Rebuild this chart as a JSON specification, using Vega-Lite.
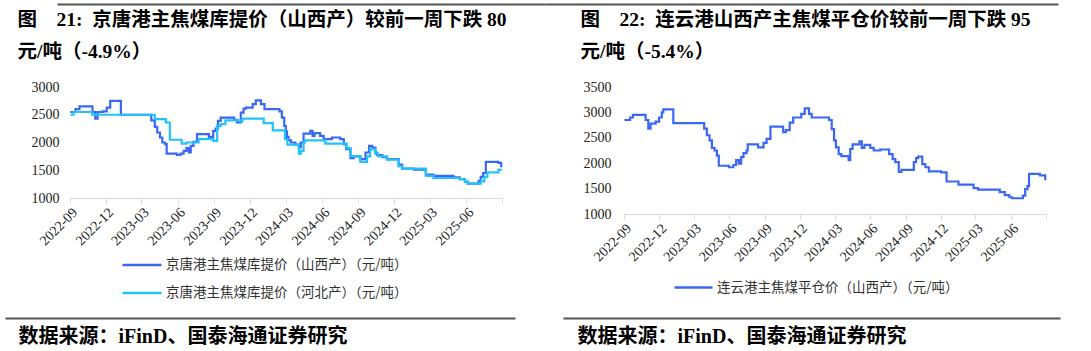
{
  "$schema": "https://vega.github.io/schema/vega-lite/v6.json",
  "background": "white",
  "padding": {"left": 5, "top": 4, "right": 0, "bottom": 0},
  "config": {"view": {"stroke": null}, "axis": {"grid": false}},
  "datasets": {
    "sx": [
      {"d":"2022-09-02","v":2550},{"d":"2022-09-15","v":2600},{"d":"2022-09-25","v":2650},{"d":"2022-10-28","v":2550},
      {"d":"2022-11-04","v":2430},{"d":"2022-11-10","v":2550},{"d":"2022-11-23","v":2560},{"d":"2022-12-03","v":2630},
      {"d":"2022-12-12","v":2750},{"d":"2023-01-08","v":2500},{"d":"2023-03-26","v":2400},{"d":"2023-04-04","v":2280},
      {"d":"2023-04-10","v":2180},{"d":"2023-04-17","v":2090},{"d":"2023-04-23","v":2000},{"d":"2023-04-30","v":1970},
      {"d":"2023-05-04","v":1800},{"d":"2023-05-30","v":1775},{"d":"2023-06-08","v":1800},{"d":"2023-06-16","v":1850},
      {"d":"2023-06-23","v":1900},{"d":"2023-06-29","v":1820},{"d":"2023-07-04","v":1940},{"d":"2023-07-11","v":2010},
      {"d":"2023-07-20","v":2150},{"d":"2023-08-19","v":2100},{"d":"2023-08-30","v":2210},{"d":"2023-09-05","v":2250},
      {"d":"2023-09-11","v":2390},{"d":"2023-09-18","v":2450},{"d":"2023-10-22","v":2410},{"d":"2023-10-29","v":2360},
      {"d":"2023-11-08","v":2540},{"d":"2023-11-15","v":2610},{"d":"2023-11-21","v":2630},{"d":"2023-12-08","v":2690},
      {"d":"2023-12-16","v":2760},{"d":"2023-12-29","v":2690},{"d":"2024-01-07","v":2600},{"d":"2024-02-14","v":2560},
      {"d":"2024-02-20","v":2450},{"d":"2024-02-26","v":2300},{"d":"2024-03-01","v":2200},{"d":"2024-03-04","v":2100},
      {"d":"2024-03-08","v":2040},{"d":"2024-03-14","v":2000},{"d":"2024-03-25","v":1960},{"d":"2024-04-03","v":1910},
      {"d":"2024-04-08","v":2000},{"d":"2024-04-15","v":2160},{"d":"2024-05-02","v":2210},{"d":"2024-05-08","v":2120},
      {"d":"2024-05-13","v":2170},{"d":"2024-05-27","v":2120},{"d":"2024-06-05","v":2060},{"d":"2024-06-26","v":2090},
      {"d":"2024-07-17","v":2060},{"d":"2024-07-26","v":1970},{"d":"2024-08-01","v":1880},{"d":"2024-08-12","v":1720},
      {"d":"2024-08-20","v":1750},{"d":"2024-09-06","v":1700},{"d":"2024-09-19","v":1820},{"d":"2024-09-28","v":1940},
      {"d":"2024-10-06","v":1910},{"d":"2024-10-14","v":1820},{"d":"2024-10-18","v":1775},{"d":"2024-11-01","v":1735},
      {"d":"2024-11-13","v":1700},{"d":"2024-12-12","v":1600},{"d":"2024-12-21","v":1530},{"d":"2025-01-20","v":1510},
      {"d":"2025-02-19","v":1420},{"d":"2025-03-10","v":1400},{"d":"2025-04-30","v":1370},{"d":"2025-05-16","v":1340},
      {"d":"2025-05-29","v":1295},{"d":"2025-06-05","v":1260},{"d":"2025-07-03","v":1310},{"d":"2025-07-08","v":1380},
      {"d":"2025-07-14","v":1450},{"d":"2025-07-21","v":1650},{"d":"2025-08-22","v":1633},{"d":"2025-08-29","v":1553}
    ],
    "hb": [
      {"d":"2022-09-02","v":2500},{"d":"2022-09-10","v":2550},{"d":"2022-10-27","v":2500},{"d":"2023-04-04","v":2420},
      {"d":"2023-05-02","v":2360},{"d":"2023-05-12","v":2050},{"d":"2023-06-11","v":1980},{"d":"2023-06-23","v":2000},
      {"d":"2023-07-24","v":2060},{"d":"2023-08-30","v":2030},{"d":"2023-09-09","v":2300},{"d":"2023-09-18","v":2330},
      {"d":"2023-09-30","v":2400},{"d":"2023-11-08","v":2380},{"d":"2023-11-12","v":2430},{"d":"2024-01-05","v":2350},
      {"d":"2024-01-28","v":2220},{"d":"2024-02-28","v":2060},{"d":"2024-03-05","v":1960},{"d":"2024-04-03","v":1800},
      {"d":"2024-04-08","v":1850},{"d":"2024-04-15","v":2000},{"d":"2024-04-18","v":2040},{"d":"2024-06-09","v":1980},
      {"d":"2024-08-02","v":1900},{"d":"2024-08-12","v":1750},{"d":"2024-09-06","v":1650},{"d":"2024-09-23","v":1750},
      {"d":"2024-10-01","v":1880},{"d":"2024-10-14","v":1800},{"d":"2024-10-21","v":1750},{"d":"2024-11-12","v":1690},
      {"d":"2024-12-12","v":1570},{"d":"2024-12-21","v":1530},{"d":"2025-02-19","v":1400},{"d":"2025-03-10","v":1360},
      {"d":"2025-05-16","v":1340},{"d":"2025-05-29","v":1290},{"d":"2025-06-05","v":1260},{"d":"2025-07-08","v":1300},
      {"d":"2025-07-17","v":1380},{"d":"2025-07-25","v":1460},{"d":"2025-08-22","v":1510},{"d":"2025-08-29","v":1520}
    ],
    "lyg": [
      {"d":"2022-09-02","v":2850},{"d":"2022-09-17","v":2900},{"d":"2022-09-24","v":2950},{"d":"2022-10-27","v":2850},
      {"d":"2022-11-03","v":2680},{"d":"2022-11-09","v":2780},{"d":"2022-11-22","v":2820},{"d":"2022-12-01","v":2900},
      {"d":"2022-12-08","v":3000},{"d":"2022-12-12","v":3060},{"d":"2023-01-07","v":2790},{"d":"2023-03-28","v":2680},
      {"d":"2023-04-04","v":2550},{"d":"2023-04-11","v":2450},{"d":"2023-04-17","v":2300},{"d":"2023-04-24","v":2250},
      {"d":"2023-04-30","v":2150},{"d":"2023-05-05","v":1950},{"d":"2023-05-31","v":1920},{"d":"2023-06-12","v":1965},
      {"d":"2023-06-19","v":2060},{"d":"2023-06-26","v":1990},{"d":"2023-07-02","v":2120},{"d":"2023-07-08","v":2200},
      {"d":"2023-07-16","v":2250},{"d":"2023-07-19","v":2370},{"d":"2023-08-15","v":2310},{"d":"2023-08-29","v":2400},
      {"d":"2023-09-06","v":2480},{"d":"2023-09-16","v":2720},{"d":"2023-10-19","v":2610},{"d":"2023-10-26","v":2650},
      {"d":"2023-11-05","v":2800},{"d":"2023-11-14","v":2900},{"d":"2023-12-05","v":2970},{"d":"2023-12-14","v":3080},
      {"d":"2023-12-25","v":2970},{"d":"2024-01-01","v":2900},{"d":"2024-02-15","v":2850},{"d":"2024-02-22","v":2670},
      {"d":"2024-02-28","v":2450},{"d":"2024-03-04","v":2310},{"d":"2024-03-11","v":2180},{"d":"2024-03-18","v":2140},
      {"d":"2024-04-06","v":2060},{"d":"2024-04-10","v":2280},{"d":"2024-04-16","v":2370},{"d":"2024-05-04","v":2430},
      {"d":"2024-05-10","v":2300},{"d":"2024-05-17","v":2360},{"d":"2024-06-01","v":2300},{"d":"2024-06-10","v":2250},
      {"d":"2024-06-27","v":2270},{"d":"2024-07-20","v":2180},{"d":"2024-07-29","v":2080},{"d":"2024-08-05","v":2020},
      {"d":"2024-08-14","v":1830},{"d":"2024-08-21","v":1870},{"d":"2024-09-22","v":2020},{"d":"2024-09-28","v":2100},
      {"d":"2024-10-03","v":2130},{"d":"2024-10-14","v":1980},{"d":"2024-10-22","v":1920},{"d":"2024-10-31","v":1840},
      {"d":"2024-12-02","v":1820},{"d":"2024-12-16","v":1640},{"d":"2025-01-16","v":1580},{"d":"2025-02-24","v":1510},
      {"d":"2025-03-08","v":1480},{"d":"2025-05-03","v":1430},{"d":"2025-05-16","v":1370},{"d":"2025-05-28","v":1330},
      {"d":"2025-06-04","v":1310},{"d":"2025-07-02","v":1360},{"d":"2025-07-08","v":1490},{"d":"2025-07-14","v":1550},
      {"d":"2025-07-18","v":1790},{"d":"2025-08-15","v":1759},{"d":"2025-08-29","v":1664}
    ]
  },
  "spacing": -35,
  "bounds": "full",
  "resolve": {"scale": {"color": "independent", "y": "independent", "x": "independent"}, "legend": {"color": "independent"}},
  "hconcat": [
    {
      "width": 432,
      "height": 111,
      "layer": [
        {
          "data": {"name": "sx"},
          "mark": {"type": "line", "interpolate": "step-after", "strokeWidth": 2.2},
          "encoding": {
            "x": {"field": "d", "type": "temporal",
              "scale": {"domain": [{"year": 2022, "month": 9, "date": 1}, {"year": 2025, "month": 8, "date": 31}]},
              "axis": {"title": null, "values": [
                {"year": 2022, "month": 9, "date": 1}, {"year": 2022, "month": 12, "date": 1},
                {"year": 2023, "month": 3, "date": 1}, {"year": 2023, "month": 6, "date": 1},
                {"year": 2023, "month": 9, "date": 1}, {"year": 2023, "month": 12, "date": 1},
                {"year": 2024, "month": 3, "date": 1}, {"year": 2024, "month": 6, "date": 1},
                {"year": 2024, "month": 9, "date": 1}, {"year": 2024, "month": 12, "date": 1},
                {"year": 2025, "month": 3, "date": 1}, {"year": 2025, "month": 6, "date": 1},
                {"year": 2025, "month": 8, "date": 31}],
                "labelExpr": "datum.value > 1750000000000 ? '' : timeFormat(datum.value, '%Y-%m')",
                "labelAngle": -45, "labelFont": "Liberation Serif", "labelFontSize": 14, "labelColor": "#222",
                "labelFlush": false, "labelOverlap": false, "labelPadding": 2,
                "domainColor": "#D9D9D9", "tickColor": "#D9D9D9", "tickSize": 5, "grid": false}},
            "y": {"field": "v", "type": "quantitative",
              "scale": {"domain": [1000, 3000], "nice": false, "zero": false},
              "axis": {"title": null, "values": [1000, 1500, 2000, 2500, 3000], "format": "d", "domain": false, "ticks": false,
                "labelFont": "Liberation Serif", "labelFontSize": 14, "labelColor": "#222", "labelPadding": 11, "grid": false}},
            "color": {"datum": "京唐港主焦煤库提价（山西产）（元/吨）", "type": "nominal",
              "scale": {"domain": ["京唐港主焦煤库提价（山西产）（元/吨）", "京唐港主焦煤库提价（河北产）（元/吨）"], "range": ["#3A68F5", "#22C3F8"]},
              "legend": {"orient": "none", "legendX": 51, "legendY": 157, "direction": "vertical", "title": null,
                "symbolType": "stroke", "symbolSize": 1521, "symbolStrokeWidth": 2.5, "labelLimit": 0,
                "labelFont": "Noto Sans CJK SC", "labelFontSize": 13.5, "labelColor": "#333", "labelOffset": 3, "rowPadding": -12}}
          }
        },
        {
          "data": {"name": "hb"},
          "mark": {"type": "line", "interpolate": "step-after", "strokeWidth": 2.2},
          "encoding": {
            "x": {"field": "d", "type": "temporal",
              "scale": {"domain": [{"year": 2022, "month": 9, "date": 1}, {"year": 2025, "month": 8, "date": 31}]},
              "axis": null},
            "y": {"field": "v", "type": "quantitative",
              "axis": {"title": null, "values": [1000, 1500, 2000, 2500, 3000], "format": "d", "domain": false, "ticks": false,
                "labelFont": "Liberation Serif", "labelFontSize": 14, "labelColor": "#222", "labelPadding": 11, "grid": false}},
            "color": {"datum": "京唐港主焦煤库提价（河北产）（元/吨）", "type": "nominal"}
          }
        },
        {
          "data": {"values": [{"u": 0, "w": 2000}]},
          "mark": {"type": "point", "opacity": 0, "size": 0},
          "encoding": {
            "y": {"field": "w", "type": "quantitative",
              "axis": {"title": null, "values": [1000, 1500, 2000, 2500, 3000], "format": "d", "domain": false, "ticks": false,
                "labelFont": "Liberation Serif", "labelFontSize": 14, "labelColor": "#222", "labelPadding": 11, "grid": false}},
            "x": {"field": "u", "type": "quantitative", "scale": {"domain": [0, 1], "range": [-13, 475]},
              "axis": {"orient": "top", "offset": 83, "domainColor": "#555555", "domainWidth": 2, "ticks": false, "labels": false, "grid": false,
                "title": ["图\u300021:\u2002京唐港主焦煤库提价（山西产）较前一周下跌 80", "元/吨（-4.9%）"],
                "titleFont": "Liberation Serif, Noto Sans CJK SC", "titleFontSize": 19.5, "titleFontWeight": "bold", "titleColor": "#000000",
                "titleAlign": "left", "titleAnchor": "start", "titleBaseline": "alphabetic", "titleAngle": 0,
                "titleX": -53, "titleY": 21, "titleLineHeight": 32}}
          }
        },
        {
          "data": {"values": [{"u": 0, "w": 2000}]},
          "mark": {"type": "point", "opacity": 0, "size": 0},
          "encoding": {
            "y": {"field": "w", "type": "quantitative",
              "axis": {"title": null, "values": [1000, 1500, 2000, 2500, 3000], "format": "d", "domain": false, "ticks": false,
                "labelFont": "Liberation Serif", "labelFontSize": 14, "labelColor": "#222", "labelPadding": 11, "grid": false}},
            "x": {"field": "u", "type": "quantitative", "scale": {"domain": [0, 1], "range": [-65, 445]},
              "axis": {"orient": "bottom", "offset": 120, "domainColor": "#555555", "domainWidth": 2, "ticks": false, "labels": false, "grid": false,
                "title": "数据来源：iFinD、国泰海通证券研究",
                "titleFont": "Liberation Serif, Noto Sans CJK SC", "titleFontSize": 20, "titleFontWeight": "bold", "titleColor": "#000000",
                "titleAlign": "left", "titleAnchor": "start", "titleBaseline": "alphabetic", "titleAngle": 0,
                "titleX": -52, "titleY": 24}}
          }
        }
      ],
      "resolve": {"scale": {"x": "independent"}, "axis": {"x": "independent"}}
    },
    {
      "width": 422,
      "height": 127,
      "layer": [
        {
          "data": {"name": "lyg"},
          "mark": {"type": "line", "interpolate": "step-after", "strokeWidth": 2.2},
          "encoding": {
            "x": {"field": "d", "type": "temporal",
              "scale": {"domain": [{"year": 2022, "month": 9, "date": 1}, {"year": 2025, "month": 8, "date": 31}]},
              "axis": {"title": null, "values": [
                {"year": 2022, "month": 9, "date": 1}, {"year": 2022, "month": 12, "date": 1},
                {"year": 2023, "month": 3, "date": 1}, {"year": 2023, "month": 6, "date": 1},
                {"year": 2023, "month": 9, "date": 1}, {"year": 2023, "month": 12, "date": 1},
                {"year": 2024, "month": 3, "date": 1}, {"year": 2024, "month": 6, "date": 1},
                {"year": 2024, "month": 9, "date": 1}, {"year": 2024, "month": 12, "date": 1},
                {"year": 2025, "month": 3, "date": 1}, {"year": 2025, "month": 6, "date": 1},
                {"year": 2025, "month": 8, "date": 31}],
                "labelExpr": "datum.value > 1750000000000 ? '' : timeFormat(datum.value, '%Y-%m')",
                "labelAngle": -45, "labelFont": "Liberation Serif", "labelFontSize": 14, "labelColor": "#222",
                "labelFlush": false, "labelOverlap": false, "labelPadding": 2,
                "domainColor": "#D9D9D9", "tickColor": "#D9D9D9", "tickSize": 5, "grid": false}},
            "y": {"field": "v", "type": "quantitative",
              "scale": {"domain": [1000, 3500], "nice": false, "zero": false},
              "axis": {"title": null, "values": [1000, 1500, 2000, 2500, 3000, 3500], "format": "d", "domain": false, "ticks": false,
                "labelFont": "Liberation Serif", "labelFontSize": 14, "labelColor": "#222", "labelPadding": 13, "grid": false}},
            "color": {"datum": "连云港主焦煤平仓价（山西产）（元/吨）", "type": "nominal",
              "scale": {"domain": ["连云港主焦煤平仓价（山西产）（元/吨）"], "range": ["#3A68F5"]},
              "legend": {"orient": "none", "legendX": 49, "legendY": 180, "direction": "vertical", "title": null,
                "symbolType": "stroke", "symbolSize": 1444, "symbolStrokeWidth": 2.5, "labelLimit": 0,
                "labelFont": "Noto Sans CJK SC", "labelFontSize": 13.5, "labelColor": "#333", "labelOffset": 3}}
          }
        },
        {
          "data": {"values": [{"u": 0, "w": 2000}]},
          "mark": {"type": "point", "opacity": 0, "size": 0},
          "encoding": {
            "y": {"field": "w", "type": "quantitative",
              "axis": {"title": null, "values": [1000, 1500, 2000, 2500, 3000, 3500], "format": "d", "domain": false, "ticks": false,
                "labelFont": "Liberation Serif", "labelFontSize": 14, "labelColor": "#222", "labelPadding": 13, "grid": false}},
            "x": {"field": "u", "type": "quantitative", "scale": {"domain": [0, 1], "range": [-79, 434]},
              "axis": {"orient": "top", "offset": 83, "domainColor": "#555555", "domainWidth": 2, "ticks": false, "labels": false, "grid": false,
                "title": ["图\u300022:\u2002连云港山西产主焦煤平仓价较前一周下跌 95", "\u00a0\u00a0元/吨（-5.4%）"],
                "titleFont": "Liberation Serif, Noto Sans CJK SC", "titleFontSize": 19.5, "titleFontWeight": "bold", "titleColor": "#000000",
                "titleAlign": "left", "titleAnchor": "start", "titleBaseline": "alphabetic", "titleAngle": 0,
                "titleX": -44, "titleY": 21, "titleLineHeight": 32}}
          }
        },
        {
          "data": {"values": [{"u": 0, "w": 2000}]},
          "mark": {"type": "point", "opacity": 0, "size": 0},
          "encoding": {
            "y": {"field": "w", "type": "quantitative",
              "axis": {"title": null, "values": [1000, 1500, 2000, 2500, 3000, 3500], "format": "d", "domain": false, "ticks": false,
                "labelFont": "Liberation Serif", "labelFontSize": 14, "labelColor": "#222", "labelPadding": 13, "grid": false}},
            "x": {"field": "u", "type": "quantitative", "scale": {"domain": [0, 1], "range": [-61, 436]},
              "axis": {"orient": "bottom", "offset": 104, "domainColor": "#555555", "domainWidth": 2, "ticks": false, "labels": false, "grid": false,
                "title": "数据来源：iFinD、国泰海通证券研究",
                "titleFont": "Liberation Serif, Noto Sans CJK SC", "titleFontSize": 20, "titleFontWeight": "bold", "titleColor": "#000000",
                "titleAlign": "left", "titleAnchor": "start", "titleBaseline": "alphabetic", "titleAngle": 0,
                "titleX": -47, "titleY": 24}}
          }
        }
      ],
      "resolve": {"scale": {"x": "independent"}, "axis": {"x": "independent"}}
    }
  ]
}
